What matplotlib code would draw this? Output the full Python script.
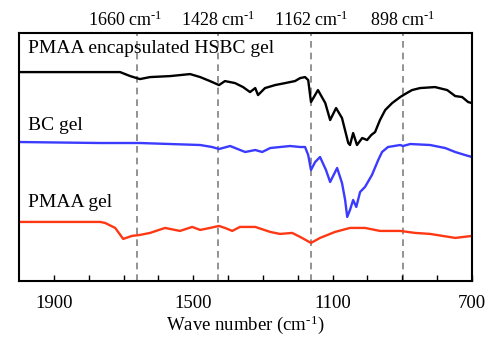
import numpy as np
import matplotlib
matplotlib.use('Agg')
import matplotlib.pyplot as plt

plt.rcParams['font.family'] = ['Liberation Serif', 'DejaVu Serif']
plt.rcParams['mathtext.fontset'] = 'custom'
plt.rcParams['mathtext.rm'] = 'Liberation Serif'
plt.rcParams['mathtext.it'] = 'Liberation Serif:italic'

# PMAA encapsulated HSBC gel
wn_hsbc = [2000, 1710, 1681, 1653, 1624, 1566, 1509, 1480, 1452, 1426, 1409, 1380,
           1357, 1337, 1322, 1314, 1294, 1265, 1236, 1208, 1193, 1179, 1170, 1162,
           1142, 1121, 1107, 1090, 1073, 1055, 1050, 1041, 1030, 1015, 1001, 989,
           978, 964, 949, 929, 906, 892, 872, 849, 806, 771, 748, 728, 711, 700]
t_hsbc = [228, 228, 224, 221, 223, 224, 226, 223, 219, 215, 219, 217,
          213, 208, 212, 205, 212, 215, 217, 219, 222, 223, 220, 198,
          210, 197, 180, 192, 182, 157, 155, 167, 155, 162, 160, 165,
          168, 180, 190, 197, 203, 206, 210, 212, 213, 210, 204, 203, 198, 197]

# BC gel
wn_bc = [2000, 1767, 1653, 1480, 1446, 1426, 1394, 1351, 1322, 1302, 1279, 1222,
         1193, 1179, 1170, 1162, 1150, 1136, 1119, 1107, 1087, 1073, 1064, 1058,
         1050, 1041, 1032, 1021, 1007, 987, 969, 958, 941, 906, 898, 877, 820,
         777, 748, 720, 700]
t_bc = [158, 157, 157, 155, 153, 151, 154, 148, 150, 148, 152, 154,
        153, 153, 145, 130, 138, 143, 130, 118, 132, 117, 100, 83,
        90, 100, 93, 108, 113, 125, 140, 148, 153, 155, 154, 156, 155,
        152, 148, 145, 143]

# PMAA gel
wn_pmaa = [2000, 1767, 1753, 1724, 1701, 1676, 1653, 1624, 1581, 1538, 1503, 1480,
           1452, 1426, 1409, 1388, 1366, 1322, 1279, 1251, 1216, 1193, 1162, 1136,
           1093, 1050, 1007, 964, 906, 863, 820, 748, 700]
t_pmaa = [78, 78, 77, 72, 61, 64, 65, 67, 72, 69, 73, 70,
          72, 74, 72, 69, 73, 73, 68, 66, 67, 63, 57, 62,
          68, 72, 72, 69, 69, 67, 66, 62, 64]

peaks = [1660, 1428, 1162, 898]
sup = '$^{\\text{-1}}$'
peak_labels = ['1660 cm' + sup, '1428 cm' + sup, '1162 cm' + sup, '898 cm' + sup]

fig = plt.figure(figsize=(5.01, 3.38), dpi=100)
ax = fig.add_axes([0.038, 0.169, 0.904, 0.733])

kw = dict(lw=1.7, solid_joinstyle='round', solid_capstyle='round')
ax.plot(wn_hsbc, t_hsbc, color='black', **kw)
ax.plot(wn_bc, t_bc, color='#3b3bff', **kw)
ax.plot(wn_pmaa, t_pmaa, color='#ff3814', **kw)

for p in peaks:
    ax.axvline(p, color='#808080', ls=(0, (4, 3)), lw=1.2, zorder=0)

label_x = [1695, 1428, 1162, 898]
for x, lab in zip(label_x, peak_labels):
    ax.text(x, 1.052, lab, transform=ax.get_xaxis_transform(), ha='center',
            va='center', fontsize=13)

ax.text(1974, 252, 'PMAA encapsulated HSBC gel', fontsize=14, va='center')
ax.text(1974, 175, 'BC gel', fontsize=14, va='center')
ax.text(1974, 97, 'PMAA gel', fontsize=14, va='center')

ax.set_xlim(2000, 700)
ax.set_ylim(19, 267)
ax.set_xticks([1900, 1500, 1100, 700])
ax.set_xticks(np.arange(700, 2000, 100), minor=True)
ax.tick_params(axis='x', which='both', direction='in', length=4, width=1, labelsize=13.5, pad=10)
ax.set_yticks([])
for s in ax.spines.values():
    s.set_linewidth(1.5)
ax.set_xlabel('Wave number (cm' + sup + ')', fontsize=13.5, labelpad=1)

fig.savefig('out.png', dpi=100)
